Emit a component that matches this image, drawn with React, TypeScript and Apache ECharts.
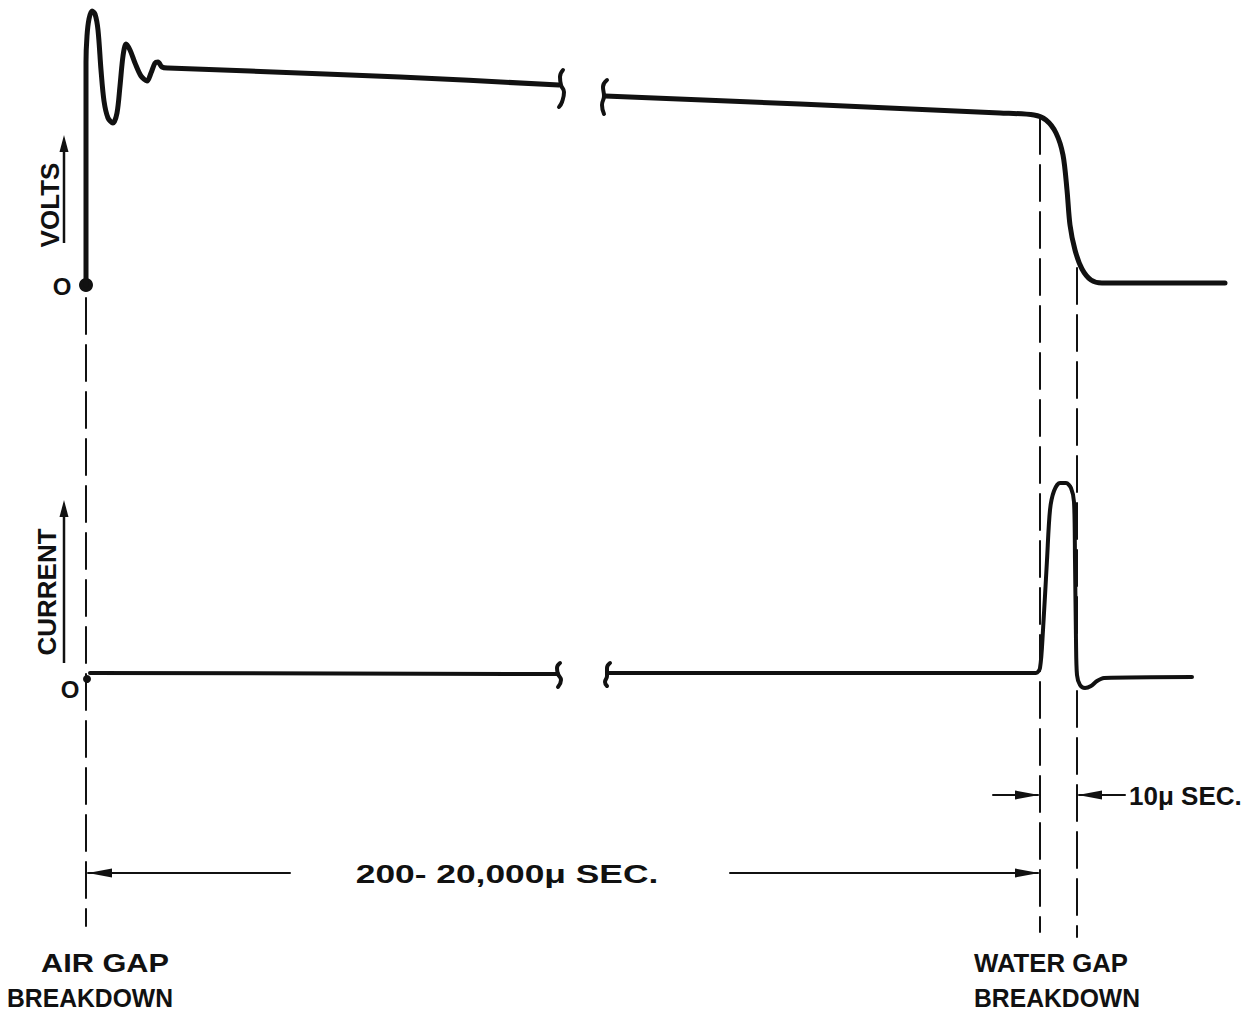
import React, { useEffect, useRef } from "react";
import * as echarts from "echarts";

// Diagram coordinates: x = horizontal position along the time sweep, y = vertical position (down-positive)
const voltsBeforeBreak: [number, number][] = [
  [86, 285], [86, 200], [86, 120], [86, 62], [87, 36], [89, 19], [92, 11], [95, 14],
  [98, 30], [101, 70], [104, 101], [108, 118], [113, 123], [117, 113], [120, 86],
  [123, 56], [126, 44], [130, 50], [135, 63], [141, 76], [147, 81], [151, 73],
  [155, 63], [158, 62], [162, 67], [168, 68], [250, 71], [400, 77], [559, 85],
];
const voltsAfterBreak: [number, number][] = [
  [605, 96], [800, 104], [1000, 113], [1034, 115], [1046, 120], [1056, 133],
  [1063, 155], [1067, 190], [1070, 225], [1075, 250], [1082, 269], [1091, 280],
  [1102, 283], [1225, 283],
];
const currentBeforeBreak: [number, number][] = [[90, 673], [558, 674]];
const currentAfterBreak: [number, number][] = [
  [609, 673], [1036, 673], [1040, 668], [1043, 630], [1047, 560], [1050, 510],
  [1054, 491], [1060, 483], [1066, 483], [1071, 488], [1074, 502], [1075, 560],
  [1076, 640], [1077, 675], [1080, 685], [1085, 688], [1091, 686], [1097, 681],
  [1104, 678], [1192, 677],
];
const breakMarks: [number, number][][] = [
  [[563, 70], [560, 77], [561, 85], [564, 92], [562, 102], [559, 107]],
  [[607, 80], [603, 87], [604, 96], [602, 105], [604, 114]],
  [[560, 663], [557, 668], [558, 674], [561, 680], [558, 687]],
  [[610, 663], [607, 668], [607, 676], [605, 682], [607, 686]],
];
const guideLines: [number, number][][] = [
  [[86, 298], [86, 926]],
  [[1040, 118], [1040, 932]],
  [[1077, 268], [1077, 937]],
];
const dimensionShafts: [number, number][][] = [
  [[88, 873], [290, 873]],
  [[730, 873], [1038, 873]],
  [[993, 795], [1038, 795]],
  [[1079, 795], [1125, 795]],
];
// arrow tips: [x, y, direction] (1 = points right, -1 = points left)
const arrowTips: [number, number, number][] = [
  [88, 873, -1], [1039, 873, 1], [1039, 795, 1], [1078, 795, -1],
];
const originDots: [number, number, number][] = [[86, 285, 14], [87, 679, 8]];
const labels = {
  volts: "VOLTS",
  current: "CURRENT",
  zero: "O",
  longSpan: "200- 20,000\u03bc SEC.",
  shortSpan: "10\u03bc SEC.",
  airGap: ["AIR GAP", "BREAKDOWN"],
  waterGap: ["WATER GAP", "BREAKDOWN"],
};

const INK = "#111";
const FONT = "'Liberation Sans', Arial, sans-serif";

export default function App() {
  const ref = useRef<HTMLDivElement>(null);
  useEffect(() => {
    document.body.style.margin = "0";
    const chart = echarts.init(ref.current!, undefined, { renderer: "svg" });
    const line = (data: [number, number][], width: number, smooth: number | boolean, type: any = "solid") => ({
      type: "line",
      data,
      smooth,
      symbol: "none",
      silent: true,
      lineStyle: { color: INK, width, type, cap: "round", join: "round" },
    });
    const arrowHalf = 12;
    const series: any[] = [
      line(voltsBeforeBreak, 5, 0.3),
      line(voltsAfterBreak, 5, 0.3),
      line(currentBeforeBreak, 4, false),
      line(currentAfterBreak, 4, 0.3),
      ...breakMarks.map((b) => line(b, 4, 0.5)),
      ...guideLines.map((g) => line(g, 2, false, [36, 11])),
      ...dimensionShafts.map((d) => line(d, 2, false)),
      {
        type: "scatter",
        silent: true,
        data: arrowTips.map(([x, y, d]) => ({
          value: [x - d * arrowHalf, y],
          symbolRotate: d > 0 ? -90 : 90,
        })),
        symbol: "triangle",
        symbolSize: [9, arrowHalf * 2],
        itemStyle: { color: INK, opacity: 1 },
      },
      {
        type: "scatter",
        silent: true,
        data: originDots.map(([x, y, s]) => ({ value: [x, y], symbolSize: s })),
        symbol: "circle",
        itemStyle: { color: INK, opacity: 1 },
      },
    ];
    const txt = (text: string, x: number, y: number, size: number, scaleX = 1, align = "center", rotation = 0) => ({
      type: "text",
      x,
      y,
      scaleX,
      rotation,
      silent: true,
      style: {
        text,
        fill: INK,
        font: `bold ${size}px ${FONT}`,
        textAlign: align,
        textVerticalAlign: "middle",
      },
    });
    const graphic: any[] = [
      txt(labels.volts, 50, 205, 26, 1, "center", Math.PI / 2),
      txt(labels.current, 47, 592, 26, 1, "center", Math.PI / 2),
      txt(labels.zero, 62, 286, 24),
      txt(labels.zero, 70, 689, 24),
      txt(labels.longSpan, 507, 874, 26, 1.36),
      txt(labels.shortSpan, 1129, 796, 26, 1.0, "left"),
      txt(labels.airGap[0], 105, 963, 26, 1.18),
      txt(labels.airGap[1], 90, 998, 26, 0.95),
      txt(labels.waterGap[0], 1051, 963, 26, 0.99),
      txt(labels.waterGap[1], 1057, 998, 26, 0.95),
      // axis arrows
      { type: "line", silent: true, shape: { x1: 64, y1: 243, x2: 64, y2: 148 }, style: { stroke: INK, lineWidth: 2.5 } },
      { type: "polygon", silent: true, shape: { points: [[64, 135], [59.5, 152], [68.5, 152]] }, style: { fill: INK } },
      { type: "line", silent: true, shape: { x1: 64, y1: 663, x2: 64, y2: 514 }, style: { stroke: INK, lineWidth: 2.5 } },
      { type: "polygon", silent: true, shape: { points: [[64, 500], [59.5, 517], [68.5, 517]] }, style: { fill: INK } },
    ];
    chart.setOption({
      animation: false,
      backgroundColor: "#fff",
      grid: { left: 0, right: 0, top: 0, bottom: 0 },
      xAxis: { type: "value", min: 0, max: 1260, show: false },
      yAxis: { type: "value", min: 0, max: 1011, inverse: true, show: false },
      series,
      graphic,
    });
    return () => chart.dispose();
  }, []);
  return <div ref={ref} style={{ width: 1260, height: 1011 }} />;
}
